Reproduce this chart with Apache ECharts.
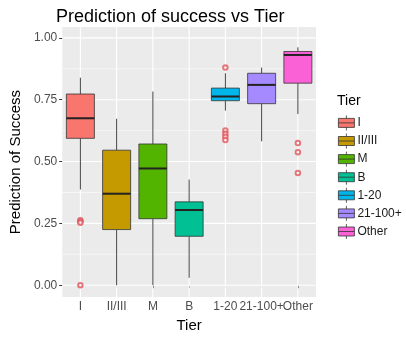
<!DOCTYPE html>
<html>
<head>
<meta charset="utf-8">
<script src="https://cdn.jsdelivr.net/npm/echarts@6/dist/echarts.min.js"></script>
<style>
  html, body { margin: 0; padding: 0; background: #fff; }
  #chart { width: 406px; height: 338px; }
</style>
</head>
<body>
<div id="chart"></div>
<script>
// box statistics
const tiers = ['I', 'II/III', 'M', 'B', '1-20', '21-100+', 'Other']
const lowWhisker = [0.387, 0, 0, 0.03, 0.706, 0.582, 0.692]
const q1 = [0.594, 0.225, 0.269, 0.198, 0.746, 0.734, 0.817]
const median = [0.675, 0.37, 0.472, 0.304, 0.763, 0.81, 0.931]
const q3 = [0.773, 0.546, 0.571, 0.337, 0.797, 0.857, 0.945]
const highWhisker = [0.839, 0.673, 0.783, 0.427, 0.857, 0.88, 0.962]
// outliers: [tier index, value]
const outliers = [
  [0, 0.263], [0, 0.258], [0, 0.253], [0, 0.0],
  [4, 0.88], [4, 0.626], [4, 0.612], [4, 0.6], [4, 0.587],
  [6, 0.575], [6, 0.538], [6, 0.454]
]
const yMajor = [0, 0.25, 0.5, 0.75, 1]
const yMinor = [0.125, 0.375, 0.625, 0.875]

const colors = ['#F8766D', '#C49A00', '#53B400', '#00C094', '#00B6EB', '#A58AFF', '#FB61D7']
const font = 'Liberation Sans, Arial, sans-serif'

const myChart = echarts.init(document.getElementById('chart'))

function boxItem (params, api) {
  const i = api.value(0)
  const half = 14
  const pLow = api.coord([i, api.value(1)])
  const pQ1 = api.coord([i, api.value(2)])
  const pMed = api.coord([i, api.value(3)])
  const pQ3 = api.coord([i, api.value(4)])
  const pHigh = api.coord([i, api.value(5)])
  const x = pMed[0]
  const line = { stroke: '#444', lineWidth: 1 }
  return {
    type: 'group',
    children: [
      { type: 'line', shape: { x1: x, y1: pHigh[1], x2: x, y2: pQ3[1] }, style: line },
      { type: 'line', shape: { x1: x, y1: pQ1[1], x2: x, y2: pLow[1] }, style: line },
      {
        type: 'rect',
        shape: { x: x - half, y: pQ3[1], width: half * 2, height: pQ1[1] - pQ3[1] },
        style: { fill: api.visual('color'), stroke: '#333', lineWidth: 0.8 }
      },
      {
        type: 'line',
        shape: { x1: x - half, y1: pMed[1], x2: x + half, y2: pMed[1] },
        style: { stroke: '#222', lineWidth: 2 }
      }
    ]
  }
}

const boxSeries = tiers.map(function (name, i) {
  return {
    type: 'custom',
    name: name,
    z: 3,
    itemStyle: { color: colors[i] },
    renderItem: boxItem,
    encode: { x: 0, y: [1, 2, 3, 4, 5] },
    data: [[i, lowWhisker[i], q1[i], median[i], q3[i], highWhisker[i]]]
  }
})

const gridLines = {
  type: 'custom',
  silent: true,
  z: 1,
  renderItem: function (params, api) {
    const cs = params.coordSys
    const kind = api.value(0)
    const v = api.value(1)
    if (kind === 2) {
      const px = api.coord([v, 0])[0]
      return { type: 'line', shape: { x1: px, y1: cs.y, x2: px, y2: cs.y + cs.height }, style: { stroke: '#fff', lineWidth: 1.1 } }
    }
    const py = api.coord([0, v])[1]
    return {
      type: 'line',
      shape: { x1: cs.x, y1: py, x2: cs.x + cs.width, y2: py },
      style: { stroke: '#fff', lineWidth: kind === 0 ? 1.1 : 0.55 }
    }
  },
  data: yMajor.map(function (v) { return [0, v] })
    .concat(yMinor.map(function (v) { return [1, v] }))
    .concat(tiers.map(function (t, i) { return [2, i] }))
}

const option = {
  backgroundColor: '#fff',
  animation: false,
  textStyle: { fontFamily: font },
  title: [
    {
      text: 'Prediction of success vs Tier',
      left: 51,
      top: 3,
      textStyle: { fontSize: 18, fontWeight: 'normal', color: '#000', fontFamily: font }
    },
    {
      text: 'Tier',
      left: 332,
      top: 89,
      textStyle: { fontSize: 14, fontWeight: 'normal', color: '#000', fontFamily: font }
    }
  ],
  legend: {
    orient: 'vertical',
    left: 333,
    top: 110,
    itemWidth: 16,
    itemHeight: 15,
    itemGap: 2.3,
    icon: 'path://M8,0 L8,3 M0,3 L16,3 L16,12 L0,12 Z M0,7.5 L16,7.5 M8,12 L8,15',
    itemStyle: { borderColor: '#333', borderWidth: 0.8 },
    textStyle: { fontSize: 12, color: '#1a1a1a', padding: [0, 0, 0, -2] },
    selectedMode: false,
    data: tiers
  },
  grid: {
    left: 53,
    right: 90,
    top: 27,
    bottom: 40,
    show: true,
    backgroundColor: '#EBEBEB',
    borderWidth: 0
  },
  xAxis: {
    type: 'category',
    data: tiers,
    name: 'Tier',
    nameLocation: 'middle',
    nameGap: 19,
    nameTextStyle: { fontSize: 15, color: '#000' },
    axisLine: { show: false },
    axisTick: { show: true, alignWithLabel: true, length: 3, lineStyle: { color: '#333' } },
    axisLabel: { fontSize: 12, color: '#4d4d4d', margin: 4, interval: 0 },
    splitLine: { show: false }
  },
  yAxis: {
    type: 'value',
    min: -0.048,
    max: 1.044,
    name: 'Prediction of Success',
    nameLocation: 'middle',
    nameGap: 37,
    nameTextStyle: { fontSize: 15, color: '#000' },
    axisLine: { show: false },
    axisTick: { show: true, length: 3, customValues: yMajor, lineStyle: { color: '#333' } },
    axisLabel: {
      fontSize: 12,
      color: '#4d4d4d',
      margin: 5,
      customValues: yMajor,
      formatter: function (v) { return v.toFixed(2) }
    },
    splitLine: { show: false }
  },
  series: [gridLines].concat(boxSeries).concat([
    {
      type: 'scatter',
      z: 4,
      symbol: 'emptyCircle',
      symbolSize: 4.5,
      itemStyle: { color: '#E0565C', borderWidth: 0.8 },
      data: outliers
    }
  ])
}

myChart.setOption(option)
</script>
</body>
</html>
